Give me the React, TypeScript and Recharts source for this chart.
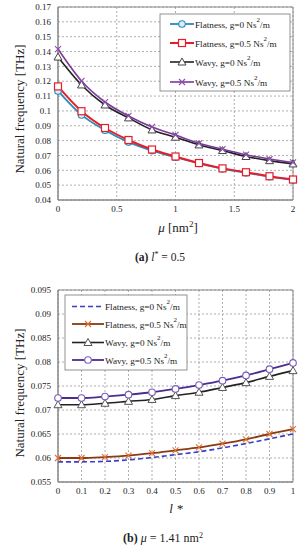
import React from 'react';
import { LineChart, Line, XAxis, YAxis, CartesianGrid, ReferenceArea } from 'recharts';

const muValues = [0, 0.2, 0.4, 0.6, 0.8, 1.0, 1.2, 1.4, 1.6, 1.8, 2.0];
const aFlat0 = [0.1135, 0.0973, 0.087, 0.079, 0.0733, 0.0688, 0.0646, 0.061, 0.0583, 0.0557, 0.0535];
const aFlat05 = [0.1165, 0.0998, 0.0885, 0.0804, 0.074, 0.0693, 0.0649, 0.0613, 0.0587, 0.056, 0.0538];
const aWavy0 = [0.1363, 0.1175, 0.104, 0.0953, 0.0872, 0.0823, 0.0771, 0.0733, 0.0693, 0.0665, 0.0643];
const aWavy05 = [0.1417, 0.1202, 0.106, 0.0966, 0.0892, 0.0838, 0.0782, 0.0742, 0.0705, 0.0676, 0.0653];
const aXTicks = [0, 0.5, 1, 1.5, 2];
const aYTicks = [0.04, 0.05, 0.06, 0.07, 0.08, 0.09, 0.1, 0.11, 0.12, 0.13, 0.14, 0.15, 0.16, 0.17];

const lValues = [0, 0.1, 0.2, 0.3, 0.4, 0.5, 0.6, 0.7, 0.8, 0.9, 1.0];
const bFlat0 = [0.0592, 0.0592, 0.0593, 0.0596, 0.0601, 0.0607, 0.0613, 0.0621, 0.063, 0.064, 0.065];
const bFlat05 = [0.06, 0.06, 0.0602, 0.0605, 0.061, 0.0616, 0.0622, 0.063, 0.0639, 0.065, 0.066];
const bWavy0 = [0.0711, 0.0711, 0.0714, 0.0718, 0.0722, 0.073, 0.0737, 0.0747, 0.0757, 0.077, 0.0782];
const bWavy05 = [0.0725, 0.0725, 0.0728, 0.0732, 0.0737, 0.0744, 0.0752, 0.0761, 0.0772, 0.0785, 0.0798];
const bXTicks = [0, 0.1, 0.2, 0.3, 0.4, 0.5, 0.6, 0.7, 0.8, 0.9, 1];
const bYTicks = [0.055, 0.06, 0.065, 0.07, 0.075, 0.08, 0.085, 0.09, 0.095];

const legendNames = ['Flatness, g=0 Ns', 'Flatness, g=0.5 Ns', 'Wavy, g=0 Ns', 'Wavy, g=0.5 Ns'];

const dataA = muValues.map((x, i) => ({ x, f0: aFlat0[i], f5: aFlat05[i], w0: aWavy0[i], w5: aWavy05[i] }));
const dataB = lValues.map((x, i) => ({ x, f0: bFlat0[i], f5: bFlat05[i], w0: bWavy0[i], w5: bWavy05[i] }));

const FONT = 'Liberation Serif';

const fmt = (v: number) => String(Math.round(v * 1000) / 1000);

type Shape = 'circle' | 'square' | 'triangle' | 'x' | 'none';

const marker = (shape: Shape, cx: number, cy: number, stroke: string, fill: string, k?: any) => {
  if (shape === 'circle') return <circle key={k} cx={cx} cy={cy} r={3.3} fill={fill} stroke={stroke} strokeWidth={1.1} />;
  if (shape === 'square') return <rect key={k} x={cx - 3.5} y={cy - 3.5} width={7} height={7} fill={fill} stroke={stroke} strokeWidth={1.2} />;
  if (shape === 'triangle') return <path key={k} d={`M${cx},${cy - 4}L${cx - 4},${cy + 3}L${cx + 4},${cy + 3}Z`} fill={fill} stroke={stroke} strokeWidth={1} />;
  if (shape === 'x') return <path key={k} d={`M${cx - 3},${cy - 3}L${cx + 3},${cy + 3}M${cx - 3},${cy + 3}L${cx + 3},${cy - 3}`} stroke={stroke} strokeWidth={1.1} fill="none" />;
  return <g key={k} />;
};

const dotFn = (shape: Shape, stroke: string, fill: string) => (p: any) => marker(shape, p.cx, p.cy, stroke, fill, `${shape}-${p.index}`);

type Ser = { key: string; color: string; width: number; shape: Shape; mstroke: string; mfill: string; dash?: string };

const serA: Ser[] = [
  { key: 'f0', color: '#2a8cb8', width: 1.8, shape: 'circle', mstroke: '#2a8cb8', mfill: '#d8eef8' },
  { key: 'f5', color: '#e51e2b', width: 2, shape: 'square', mstroke: '#e51e2b', mfill: '#ffffff' },
  { key: 'w0', color: '#222222', width: 1.6, shape: 'triangle', mstroke: '#444444', mfill: '#ffffff' },
  { key: 'w5', color: '#7b3a9c', width: 1.6, shape: 'x', mstroke: '#8b4aac', mfill: 'none' },
];
const serB: Ser[] = [
  { key: 'f0', color: '#3a3fc8', width: 1.6, shape: 'none', mstroke: '#3a3fc8', mfill: 'none', dash: '5 3' },
  { key: 'f5', color: '#8a3a14', width: 1.8, shape: 'x', mstroke: '#e07030', mfill: 'none' },
  { key: 'w0', color: '#222222', width: 1.6, shape: 'triangle', mstroke: '#555555', mfill: '#ffffff' },
  { key: 'w5', color: '#4b2c90', width: 1.8, shape: 'circle', mstroke: '#7b5cb8', mfill: '#ffffff' },
];

const tickStyle = { fontFamily: FONT, fontSize: 9, fill: '#222' };

function Panel({ data, series, xTicks, yTicks, xDomain, yDomain, height, mb }: any) {
  return (
    <LineChart width={304} height={height} data={data} margin={{ top: 7, right: 11, left: 0, bottom: mb }}>
      <CartesianGrid stroke="#9a9a9a" strokeDasharray="2 2" strokeWidth={0.8} />
      <XAxis dataKey="x" type="number" domain={xDomain} ticks={xTicks} tickFormatter={fmt} height={20}
        tick={tickStyle} tickLine={false} tickSize={0} tickMargin={6} axisLine={{ stroke: '#888' }} interval={0} />
      <YAxis type="number" domain={yDomain} ticks={yTicks} tickFormatter={fmt} width={58}
        tick={tickStyle} tickLine={false} tickSize={0} tickMargin={7} axisLine={{ stroke: '#888' }} interval={0} />
      <ReferenceArea x1={xDomain[0]} x2={xDomain[1]} y1={yDomain[0]} y2={yDomain[1]} fill="none" stroke="#888" strokeWidth={1} />
      {series.map((s: Ser) => (
        <Line key={s.key} dataKey={s.key} type="monotone" stroke={s.color} strokeWidth={s.width}
          strokeDasharray={s.dash} dot={dotFn(s.shape, s.mstroke, s.mfill)} activeDot={false} isAnimationActive={false} />
      ))}
    </LineChart>
  );
}

function LegendBox({ x, y, w, h, series, rowY, lineX0, lineX1, textX }: any) {
  return (
    <g>
      <rect x={x} y={y} width={w} height={h} fill="#fff" stroke="#777" strokeWidth={0.8} />
      {series.map((s: Ser, i: number) => {
        const yy = rowY[i];
        return (
          <g key={s.key}>
            <line x1={lineX0} x2={lineX1} y1={yy} y2={yy} stroke={s.color} strokeWidth={s.width} strokeDasharray={s.dash} />
            {marker(s.shape, (lineX0 + lineX1) / 2, yy, s.mstroke, s.mfill)}
            <text x={textX} y={yy + 3.5} fontFamily={FONT} fontSize={9.2} fill="#222">
              {legendNames[i]}
              <tspan dy={-6} fontSize={7}>2</tspan>
              <tspan dy={6}>/m</tspan>
            </text>
          </g>
        );
      })}
    </g>
  );
}

export default function App() {
  return (
    <div style={{ position: 'absolute', left: 0, top: 0, width: 304, height: 550, background: '#fff' }}>
      <div style={{ position: 'absolute', left: 0, top: 0 }}>
        <Panel data={dataA} series={serA} xTicks={aXTicks} yTicks={aYTicks} xDomain={[0, 2]} yDomain={[0.04, 0.17]} height={240} mb={20} />
      </div>
      <div style={{ position: 'absolute', left: 0, top: 283 }}>
        <Panel data={dataB} series={serB} xTicks={bXTicks} yTicks={bYTicks} xDomain={[0, 1]} yDomain={[0.055, 0.095]} height={240} mb={21} />
      </div>
      <svg width={304} height={550} style={{ position: 'absolute', left: 0, top: 0, pointerEvents: 'none' }}>
        <LegendBox x={160} y={14} w={130} h={77} series={serA} rowY={[24, 43, 62, 82]} lineX0={170} lineX1={194} textX={195} />
        <LegendBox x={65} y={295} w={122} h={75} series={serB} rowY={[306.5, 324, 342.5, 360]} lineX0={72} lineX1={104} textX={105} />
        <text transform="translate(24,109) rotate(-90)" textAnchor="middle" fontFamily={FONT} fontSize={13} fill="#222">Natural frequency [THz]</text>
        <text transform="translate(24,393) rotate(-90)" textAnchor="middle" fontFamily={FONT} fontSize={13} fill="#222">Natural frequency [THz]</text>
        <text x={178} y={232} textAnchor="middle" fontFamily={FONT} fontSize={13} fill="#222">
          <tspan fontStyle="italic">μ</tspan> [nm<tspan dy={-5} fontSize={9}>2</tspan><tspan dy={5}>]</tspan>
        </text>
        <text x={176} y={513} textAnchor="middle" fontFamily={FONT} fontSize={13} fill="#222" fontStyle="italic">l *</text>
        <text x={160} y={261} textAnchor="middle" fontFamily={FONT} fontSize={11.5} fill="#222">
          <tspan fontWeight="bold">(a)</tspan>  <tspan fontStyle="italic">l</tspan><tspan dy={-4} fontSize={8}>*</tspan><tspan dy={4}> = 0.5</tspan>
        </text>
        <text x={163} y={542} textAnchor="middle" fontFamily={FONT} fontSize={12} fill="#222">
          <tspan fontWeight="bold">(b)</tspan> <tspan fontStyle="italic">μ</tspan> = 1.41 nm<tspan dy={-4} fontSize={8}>2</tspan>
        </text>
      </svg>
    </div>
  );
}
